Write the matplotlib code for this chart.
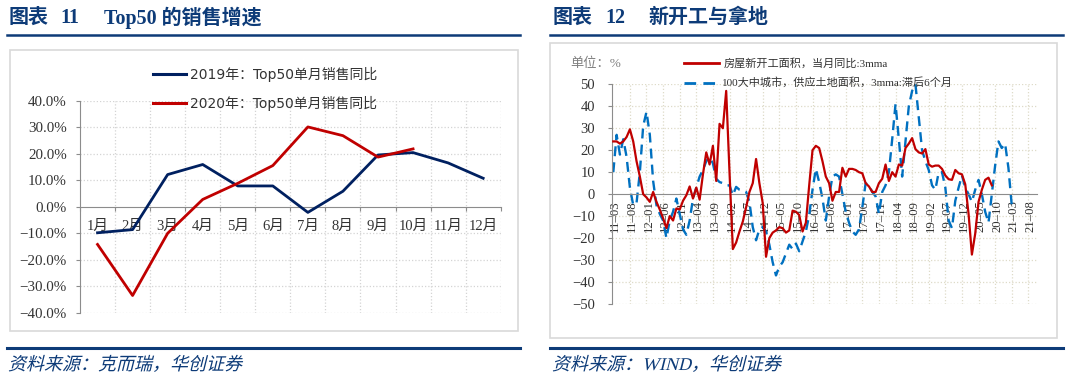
import numpy as np
import pandas as pd
import matplotlib
matplotlib.use("Agg")
import matplotlib.pyplot as plt
from matplotlib.font_manager import FontProperties
from matplotlib.textpath import TextPath
from matplotlib.patches import PathPatch, Rectangle
from matplotlib.transforms import Affine2D
from matplotlib.lines import Line2D

W, H = 1072, 392
NAVY = '#0d3b78'
AXIS_GRAY = '#8c8c8c'
CJK = 'Noto Sans CJK SC'
SERIF = ['Liberation Serif', CJK]
SANS = ['DejaVu Sans', CJK]

# ---- left panel: Top50 monthly sales yoy (%) ----
month_labels = [f'{m}月' for m in range(1, 13)]
sales_2019 = [-9.8, -8.6, 12.2, 16.0, 7.9, 7.9, -2.1, 5.9, 19.6, 20.5, 16.6, 10.8]
sales_2020 = [-14.2, -33.5, -10.0, 2.8, 8.9, 15.6, 30.2, 26.9, 18.8, 21.9]
legend_2019 = '2019年：Top50单月销售同比'
legend_2020 = '2020年：Top50单月销售同比'

# ---- right panel: new starts vs land supply (%) ----
start_month = '2011-03'
n_months = 128
new_starts_3mma = [
    24, 24, 23, 24, 26, 29.5, 24, 15, 8, 0,
    -1.5, -3.5, 1, -3.5, -7, -11, -15.5, -10, -12, -6.5,
    -7, -3, -0.5, 3.5, -2, 3, -2.5, 9, 19, 13.5,
    22, 6, 32, 30, 47, 10, -25, -22, -17, -12.5,
    -6, 1, 5, 16, 5, -4, -28.5, -20, -17.5, -16.5,
    -15, -15.5, -17.5, -16.5, -7.5, -8, -9.5, -17, -13, 4,
    20, 22, 21, 15, 8, 5, -3, 1, 1, 12,
    8, 11.5, 11.5, 11, 10, 9.5, 5, 3.5, 1, 1,
    5, 7, 13.5, 6, 10, 8, 13.5, 13, 21, 23,
    25.5, 20.5, 19, 18.5, 20.5, 13.5, 12.5, 13, 13, 11.5,
    8.5, 6.8, 6.5, 11, 9.5, 9, 4.5, -9, -27.5, -18,
    -3.5, 2, 6.5, 7.5, 4,
]
land_supply_3mma_lag6 = [
    10, 27, 18, 25, 17, 3, -5, -4, 10, 31,
    37.5, 27, 6, -5, -9, -12, -20, -12, -8, -2,
    -9, -16, -18.5, -12, -2, 3, 8, 11, 15, 17,
    14, 7, 5.5, 5, 4, 4, -0.5, 3.3, 2, 1.5,
    1, -3.5, -15, -21, -16, -15, -17, -23, -31, -37,
    -33, -31, -27, -23, -25, -22.5, -26, -21.5, -17, -9.5,
    2, 11.5, 5.5, -2, -12, -1, 8, 9, 8, 0,
    -8, -13, -17, -18.5, -16, -6, 5, 4, 1, -1,
    -9, 1, 4, 10, 25, 41, 25, 8, 24, 40,
    47, 50, 35, 20, 15, 11, 4, 2, 10, 10,
    3, -12, -15.5, -3, 3, 8.5, 3, 0, -3.5, 2,
    6.5, 0, -8, -13, 0, 13, 24, 21, 23, 12,
    -5,
]
legend_starts = '房屋新开工面积，当月同比:3mma'
legend_land = '100大中城市，供应土地面积，3mma:滞后6个月'
unit_label = '单位：%'

titles_left = ('图表', '11', 'Top50 的销售增速')
titles_right = ('图表', '12', '新开工与拿地')
source_left = '资料来源：克而瑞，华创证券'
source_right = '资料来源：WIND，华创证券'


def fx(px):
    return px / W


def fy(py):
    return 1 - py / H


fig = plt.figure(figsize=(W / 100, H / 100), dpi=100)


def fig_line(x0, x1, y0, y1, **kw):
    fig.add_artist(Line2D([fx(x0), fx(x1)], [fy(y0), fy(y1)],
                          transform=fig.transFigure, **kw))


def frame(x0, y0, x1, y1):
    fig.add_artist(Rectangle((fx(x0), fy(y1)), fx(x1) - fx(x0), fy(y0) - fy(y1),
                             transform=fig.transFigure, fill=False,
                             ec='#d9d9d9', lw=1.2))


def slanted(x, y_base, s, size_px, color):
    # italic look for the source line (CJK fonts have no italic face)
    fp = FontProperties(family=SERIF)
    tp = TextPath((0, 0), s, size=size_px, prop=fp)
    tr = Affine2D().skew_deg(14, 0).translate(x, H - y_base)
    fig.add_artist(PathPatch(tp, transform=tr, fc=color, ec='none'))


# ---------------- headers / footers ----------------
for dx, (t1, t2, t3) in ((0, titles_left), (544.4, titles_right)):
    fig.text(fx(8.6 + dx), fy(18), t1, fontsize=14.4, fontweight='bold',
             color=NAVY, family=SERIF, va='center', ha='left')
    fig.text(fx(60.5 + dx), fy(18), t2, fontsize=14.4, fontweight='bold',
             color=NAVY, family=SERIF, va='center', ha='left')
    fig.text(fx(103.8 + dx), fy(18), t3, fontsize=14.4, fontweight='bold',
             color=NAVY, family=SERIF, va='center', ha='left')

fig_line(7, 520, 35, 35, color=NAVY, lw=1.8)
fig_line(550, 1063, 35, 35, color=NAVY, lw=1.8)
fig_line(7, 520, 347.5, 347.5, color=NAVY, lw=2.2)
fig_line(550, 1063, 347.5, 347.5, color=NAVY, lw=2.2)

slanted(8, 370, source_left, 18, NAVY)
slanted(552, 370, source_right, 18, NAVY)

frame(10, 50, 518.3, 331)
frame(550, 43.3, 1057, 338)

# ---------------- left chart ----------------
ax1 = fig.add_axes([fx(80), fy(312.7), fx(500.7) - fx(80), fy(101) - fy(312.7)])
ax1.patch.set_alpha(0)
xc = np.arange(len(month_labels)) + 0.5
ax1.set_xlim(0, 12)
ax1.set_ylim(-40, 40)

grid_kw = dict(color='#d4d4d4', lw=0.9, ls=(0, (1, 1.6)), zorder=0)
for v in range(-40, 41, 10):
    if v != 0:
        ax1.axhline(v, **grid_kw)
for b in range(1, 13):
    ax1.axvline(b, **grid_kw)

for side in ('top', 'right'):
    ax1.spines[side].set_visible(False)
ax1.spines['left'].set_color(AXIS_GRAY)
ax1.spines['bottom'].set_color(AXIS_GRAY)
ax1.spines['bottom'].set_position(('data', 0))

ax1.set_xticks(range(0, 13))
ax1.tick_params(axis='x', direction='out', length=3, color=AXIS_GRAY, labelbottom=False)
yt = list(range(-40, 41, 10))
ax1.set_yticks(yt)
ax1.set_yticklabels([f'{v:.1f}%'.replace('-', '\u2212') for v in yt],
                    fontsize=10.8, family=SERIF, color='#333333')
ax1.tick_params(axis='y', direction='out', length=3, pad=6.5, color=AXIS_GRAY)

for xi, lab in zip(xc, month_labels):
    ax1.text(xi, -7.4, lab, ha='center', va='center', fontsize=10.5,
             family=SERIF, color='#333333', zorder=1)

ax1.plot(xc, sales_2019, color='#002060', lw=2.0, zorder=3)
ax1.plot(xc[:len(sales_2020)], sales_2020, color='#c00000', lw=2.0, zorder=4)

fig_line(152.7, 185.7, 74.3, 74.3, color='#002060', lw=2.2)
fig_line(152.7, 185.7, 103.3, 103.3, color='#c00000', lw=2.2)
fig.text(fx(190), fy(74.3), legend_2019, fontsize=10, family=SANS,
         color='#333333', va='center', ha='left')
fig.text(fx(190), fy(103.3), legend_2020, fontsize=10, family=SANS,
         color='#333333', va='center', ha='left')

# ---------------- right chart ----------------
ax2 = fig.add_axes([fx(612.3), fy(304), fx(1037.3) - fx(612.3), fy(84.3) - fy(304)])
ax2.patch.set_alpha(0)
ax2.set_xlim(-0.3, n_months - 0.3)
ax2.set_ylim(-50, 50)

periods = pd.period_range(start_month, periods=n_months, freq='M')
tick_pos = list(range(0, n_months, 5))
tick_lab = [f'{periods[i].year % 100:02d}\u2013{periods[i].month:02d}' for i in tick_pos]

grid2 = dict(color='#dedbc8', lw=0.9, ls=(0, (1, 1.6)), zorder=0)
for v in range(-50, 51, 10):
    if v != 0:
        ax2.axhline(v, **grid2)
for p in tick_pos[1:]:
    ax2.axvline(p, **grid2)

for side in ('top', 'right'):
    ax2.spines[side].set_visible(False)
ax2.spines['left'].set_color(AXIS_GRAY)
ax2.spines['bottom'].set_color(AXIS_GRAY)
ax2.spines['bottom'].set_position(('data', 0))
ax2.set_xticks(tick_pos)
ax2.tick_params(axis='x', length=0, labelbottom=False)
yt2 = list(range(-50, 51, 10))
ax2.set_yticks(yt2)
ax2.set_yticklabels([str(v).replace('-', '\u2212') for v in yt2],
                    fontsize=10.5, family=SERIF, color='#333333')
ax2.tick_params(axis='y', direction='out', length=3, pad=9.5, color=AXIS_GRAY)

for p, lab in zip(tick_pos, tick_lab):
    ax2.text(p + 0.6, -2.8, lab, rotation=90, ha='center', va='top', fontsize=9.2,
             family=SERIF, color='#333333', zorder=1)

ax2.plot(np.arange(len(land_supply_3mma_lag6)), land_supply_3mma_lag6,
         color='#0070c0', lw=1.7, dashes=(4.2, 2.6), zorder=2)
ax2.plot(np.arange(len(new_starts_3mma)), new_starts_3mma,
         color='#c00000', lw=1.6, zorder=3)

fig.text(fx(570), fy(64), unit_label, fontsize=9.5, family=SERIF,
         color='#7f7f7f', va='center', ha='left')
fig_line(684.3, 719, 63.3, 63.3, color='#c00000', lw=2.0)
fig_line(684.3, 719, 82.7, 82.7, color='#0070c0', lw=2.0, dashes=(4.2, 2.6))
fig.text(fx(724), fy(63.3), legend_starts, fontsize=8, family=SERIF,
         color='#333333', va='center', ha='left')
fig.text(fx(721.7), fy(82.7), legend_land, fontsize=8, family=SERIF,
         color='#333333', va='center', ha='left')

fig.savefig('out.png', dpi=100, facecolor='white')
